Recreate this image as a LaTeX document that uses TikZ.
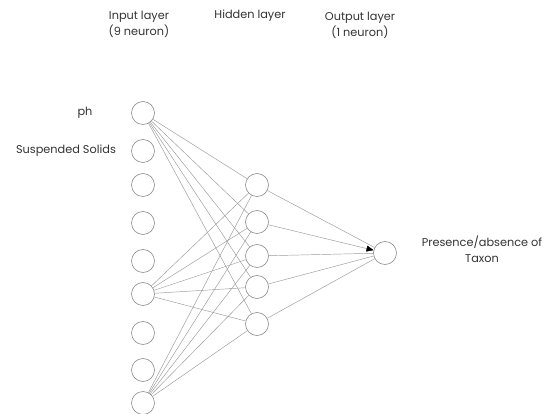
\documentclass[tikz,border=0pt]{standalone}
\usepackage{fontspec}
\setmainfont{Poppins}
\usetikzlibrary{arrows.meta}
\begin{document}
\begin{tikzpicture}[x=1pt,y=-1pt,
  neuron/.style={circle,draw=black!45,line width=0.6pt,minimum size=23pt,inner sep=0pt},
  conn/.style={draw=black!40,line width=0.45pt},
  lbl/.style={font=\fontsize{11.3}{16}\selectfont,text=black!80,align=center,inner sep=0pt}]
\useasboundingbox (0,0) rectangle (549,414);
% input layer
\foreach \i/\y in {1/113,2/151,3/185,4/223,5/261,6/294,7/333,8/370,9/403}
  \node[neuron] (i\i) at (143,\y) {};
% hidden layer
\foreach \j/\y in {1/185,2/222,3/256,4/287,5/324}
  \node[neuron] (h\j) at (257,\y) {};
% output
\node[neuron] (o) at (385,253) {};
% connections
\foreach \i in {1,6,9}
  \foreach \j in {1,...,5}
    \draw[conn] (i\i) -- (h\j);
\foreach \j in {1,3,4,5}
  \draw[conn] (h\j) -- (o);
\draw[conn,-{Triangle[length=7pt,width=6pt,fill=black,color=black]}] (h2) -- (o);
% labels
\node[lbl] (tin) at (139,24) {Input layer\\(9 neuron)};
\node[lbl] (thid) at (250,16) {Hidden layer};
\node[lbl] (tout) at (360,25) {Output layer\\(1 neuron)};
\node[lbl] (tph) at (85,113) {ph};
\node[lbl] (tss) at (66,151) {Suspended Solids};
\node[lbl] (tpa) at (482,249) {Presence/absence of\\Taxon};
\end{tikzpicture}
\end{document}
